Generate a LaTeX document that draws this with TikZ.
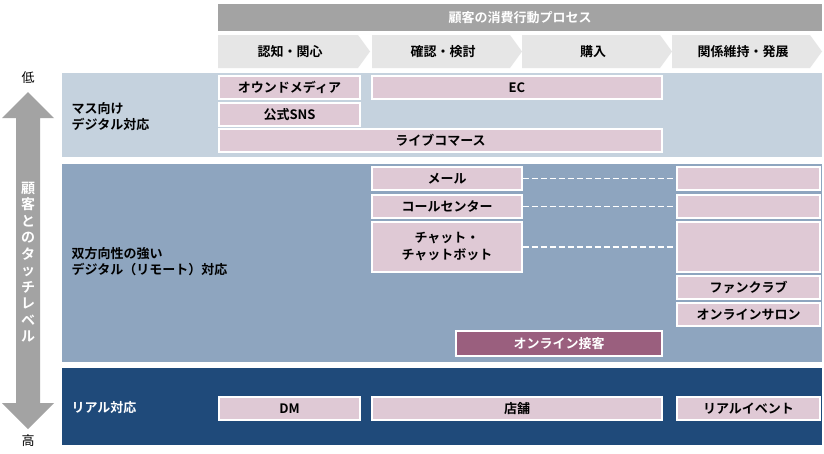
\documentclass[tikz,border=0pt]{standalone}
\usepackage{fontspec}
\setmainfont{Noto Sans CJK JP}[BoldFont={Noto Sans CJK JP Bold}]
\definecolor{band1}{HTML}{C5D2DE}
\definecolor{band2}{HTML}{8EA5BF}
\definecolor{band3}{HTML}{1F4A7A}
\definecolor{pinkbox}{HTML}{DFC9D5}
\definecolor{darkpink}{HTML}{9A5F7E}
\definecolor{chev}{HTML}{E6E6E6}
\definecolor{graybar}{HTML}{A3A3A3}
\begin{document}
\begin{tikzpicture}[x=1pt,y=-1pt,
  lbl/.style={font=\bfseries\fontsize{13}{16}\selectfont},
  box/.style={draw=white,line width=1.2pt,fill=pinkbox,font=\bfseries\fontsize{13}{16}\selectfont,align=center},
  dline/.style={draw=white,line width=1.8pt,dash pattern=on 6pt off 3pt}]
\useasboundingbox (0,0) rectangle (824,453);
\fill[white] (0,0) rectangle (824,453);
% header
\fill[graybar] (218,4) rectangle (822,31);
\node[lbl,text=white] (hdr) at (520,17.5) {顧客の消費行動プロセス};
\foreach \a/\b/\t [count=\i] in {218/370/認知・関心,372/522/確認・検討,522/672/購入,672/822/関係維持・発展}{
  \fill[chev] (\a,35) -- (\b-12,35) -- (\b,51.5) -- (\b-12,68) -- (\a,68) -- cycle;
  \node[lbl] (st\i) at ({(\a+\b)/2-4},51.5) {\t};
}
% bands
\fill[band1] (62,73) rectangle (822,157);
\fill[band2] (62,164) rectangle (822,362);
\fill[band3] (62,368) rectangle (822,445);
\node[lbl,anchor=west,align=left] (b1) at (68,117) {マス向け\\デジタル対応};
\node[lbl,anchor=west,align=left] (b2) at (68,262) {双方向性の強い\\デジタル（リモート）対応};
\node[lbl,anchor=west,text=white] (b3) at (68,408) {リアル対応};
% arrow
\fill[graybar] (28,92) -- (54,118) -- (40,118) -- (40,403) -- (54,403) -- (28,429) -- (2,403) -- (16,403) -- (16,118) -- (2,118) -- cycle;
\node[font=\fontsize{13}{16}\selectfont] (lo) at (28,78) {低};
\node[font=\fontsize{13}{16}\selectfont] (hi) at (28,441) {高};
\node[font=\bfseries\fontsize{14}{16.5}\selectfont,text=white,align=center] (vt) at (28,262) {顧\\客\\と\\の\\タ\\ッ\\チ\\レ\\ベ\\ル};
% boxes
\newcommand{\bx}[6]{\node[box,minimum width={#3-#2},minimum height={#5-#4},inner sep=0pt,#6] (#1) at ({(#2+#3)/2},{(#4+#5)/2}) {};}
\bx{own}{219}{360}{76}{99}{label=center:\bfseries\fontsize{13}{16}\selectfont オウンドメディア}
\bx{sns}{219}{360}{103}{126}{label=center:\bfseries\fontsize{13}{16}\selectfont 公式SNS}
\bx{ec}{372}{662}{76}{99}{label=center:\bfseries\fontsize{13}{16}\selectfont EC}
\bx{live}{219}{662}{129}{152}{label=center:\bfseries\fontsize{13}{16}\selectfont ライブコマース}
\bx{mail}{372}{522}{167}{190}{label=center:\bfseries\fontsize{13}{16}\selectfont メール}
\bx{call}{372}{522}{195}{218}{label=center:\bfseries\fontsize{13}{16}\selectfont コールセンター}
\bx{chat}{372}{522}{222}{272}{label={[align=center,font=\bfseries\fontsize{13}{17}\selectfont]center:チャット・\\チャットボット}}
\bx{r1}{677}{820}{167}{190}{}
\bx{r2}{677}{820}{195}{218}{}
\bx{r3}{677}{820}{222}{272}{}
\bx{fan}{677}{820}{276}{299}{label=center:\bfseries\fontsize{13}{16}\selectfont ファンクラブ}
\bx{salon}{677}{820}{303}{326}{label=center:\bfseries\fontsize{13}{16}\selectfont オンラインサロン}
\bx{onl}{456}{662}{331}{356}{fill=darkpink,label={[text=white]center:\bfseries\fontsize{13}{16}\selectfont オンライン接客}}
\bx{dm}{219}{360}{397}{420}{label=center:\bfseries\fontsize{13}{16}\selectfont DM}
\bx{shop}{372}{662}{397}{420}{label=center:\bfseries\fontsize{13}{16}\selectfont 店舗}
\bx{evt}{677}{820}{397}{420}{label=center:\bfseries\fontsize{13}{16}\selectfont リアルイベント}
\draw[dline] (mail.east) -- (r1.west);
\draw[dline] (call.east) -- (r2.west);
\draw[dline] (chat.east) -- (r3.west);
\end{tikzpicture}
\end{document}
